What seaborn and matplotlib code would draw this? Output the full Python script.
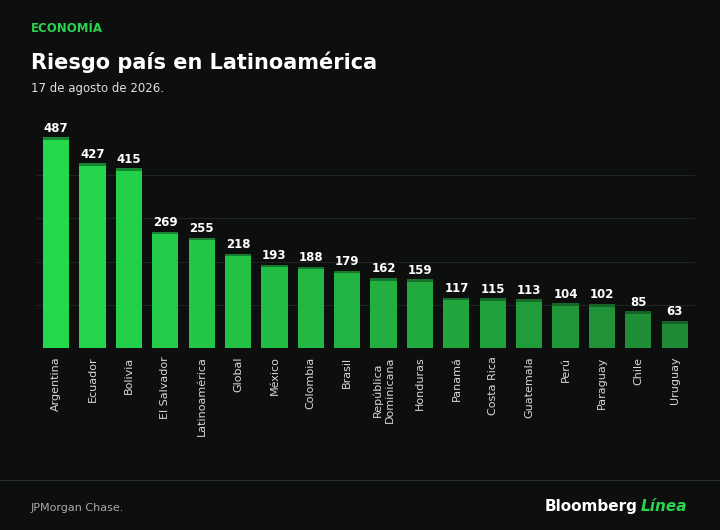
import matplotlib
matplotlib.use("Agg")
import matplotlib.pyplot as plt
import seaborn as sns
import numpy as np
import pandas as pd
from matplotlib.colors import LinearSegmentedColormap

countries = ["Argentina","Ecuador","Bolivia","El Salvador","Latinoamérica","Global","México",
             "Colombia","Brasil","República\nDominicana","Honduras","Panamá","Costa Rica",
             "Guatemala","Perú","Paraguay","Chile","Uruguay"]
values = [487,427,415,269,255,218,193,188,179,162,159,117,115,113,104,102,85,63]

sns.set_theme(style="dark")
plt.rcParams['font.family'] = ['DejaVu Sans']
bg = "#0c0f0d"
fig = plt.figure(figsize=(7.2,5.3), dpi=100, facecolor=bg)
ax = fig.add_axes([0.05, 0.343, 0.915, 0.43])
ax.set_facecolor(bg)

cmap = LinearSegmentedColormap.from_list("g", ["#1f8a36", "#24d94c"])
n = len(values)
cols = [cmap(1 - i/(n-1)) for i in range(n)]
df = pd.DataFrame({"c": countries, "v": values})
sns.barplot(data=df, x="c", y="v", hue="c", palette=cols, legend=False, width=0.72,
            ax=ax, saturation=1, edgecolor="none", linewidth=0)
for i, (p, v) in enumerate(zip(ax.patches, values)):
    x0, w = p.get_x(), p.get_width()
    ax.add_patch(plt.Rectangle((x0, v-6), w, 6, color="#0d3a18", alpha=0.5, lw=0))
    ax.text(x0 + w/2, v + 6, str(v), ha="center", va="bottom", color="white",
            fontsize=8.5, fontweight="bold")
ax.set_ylim(0, 526)
ax.set_xlim(-0.55, n-0.45)
for y in [100, 200, 300, 400]:
    ax.axhline(y, color="#232725", lw=0.6, zorder=0)
ax.set_yticks([])
ax.set_xlabel(""); ax.set_ylabel("")
ax.tick_params(axis="x", colors="#d8d8d8", labelsize=8, length=0, pad=6)
plt.setp(ax.get_xticklabels(), rotation=90, va="top", ha="center")
for s in ax.spines.values():
    s.set_visible(False)

fig.text(0.043, 0.94, "ECONOMÍA", color="#2bd44e", fontsize=8.5, fontweight="bold")
fig.text(0.043, 0.87, "Riesgo país en Latinoamérica", color="white", fontsize=15, fontweight="bold")
fig.text(0.043, 0.827, "17 de agosto de 2026.", color="#e0e0e0", fontsize=8.5)
fig.add_artist(plt.Line2D([0, 1], [0.095, 0.095], color="#2a2e2b", lw=0.8))
fig.text(0.043, 0.035, "JPMorgan Chase.", color="#a8a8a8", fontsize=8)
fig.text(0.885, 0.035, "Bloomberg", color="white", fontsize=11, fontweight="bold", ha="right")
fig.text(0.89, 0.035, "Línea", color="#2bd44e", fontsize=11, fontweight="bold", style="italic", ha="left")
fig.savefig("out.png", dpi=100, facecolor=bg)
